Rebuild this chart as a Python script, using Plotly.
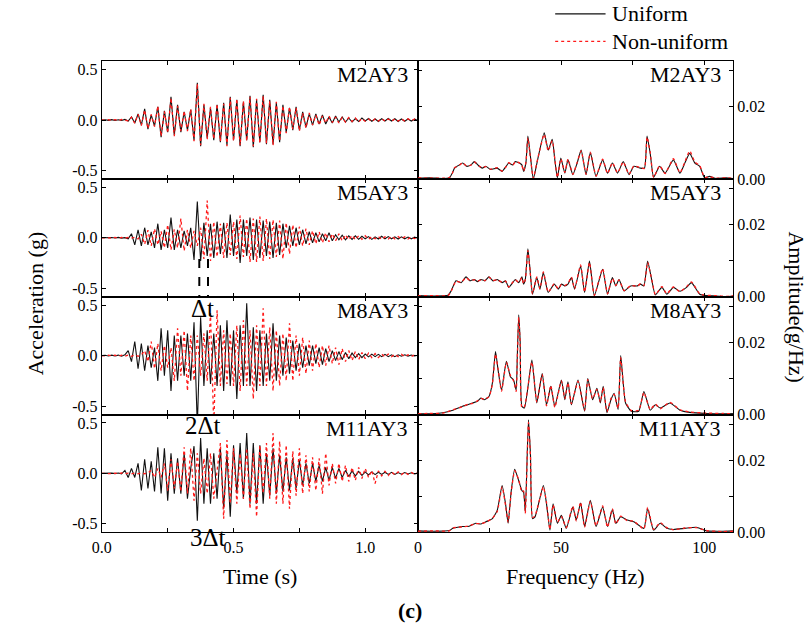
import numpy as np
import plotly.graph_objects as go

# ---------------------------------------------------------------------------
# Acceleration histories (g): successive extrema picked every SAMPLE_DT seconds
# ---------------------------------------------------------------------------
SAMPLE_DT = 0.0125

ACC_M2_UNIFORM = [
    0.0, 0.003, -0.003, 0.004, -0.004, 0.003, -0.005, 0.006, -0.01, 0.03,
    -0.03, 0.06, -0.05, 0.11, -0.09, 0.05, -0.06, 0.13, -0.17, 0.09,
    -0.12, 0.23, -0.15, 0.15, -0.12, 0.08, -0.1, 0.1, -0.2, 0.37,
    -0.26, 0.15, -0.18, 0.12, -0.2, 0.15, -0.22, 0.17, -0.25, 0.23,
    -0.2, 0.2, -0.26, 0.18, -0.2, 0.24, -0.27, 0.2, -0.22, 0.25,
    -0.24, 0.2, -0.24, 0.17, -0.22, 0.15, -0.12, 0.12, -0.1, 0.13,
    -0.1, 0.08, -0.07, 0.06, -0.05, 0.06, -0.04, 0.05, -0.04, 0.03,
    -0.03, 0.04, -0.02, 0.03, -0.02, 0.02, -0.02, 0.015, -0.015, 0.02,
    -0.01, 0.015, -0.012, 0.01, -0.015, 0.012, -0.01, 0.015, -0.01, 0.012,
    -0.015, 0.01, -0.012, 0.01, -0.01, 0.008, -0.005]
ACC_M2_NONUNIFORM = [
    0.0, -0.003, 0.004, -0.003, 0.004, -0.004, 0.005, -0.004, -0.008, 0.028,
    -0.032, 0.058, -0.055, 0.1, -0.085, 0.055, -0.065, 0.14, -0.16, 0.085,
    -0.13, 0.22, -0.16, 0.14, -0.11, 0.09, -0.11, 0.11, -0.21, 0.36,
    -0.25, 0.16, -0.19, 0.13, -0.19, 0.16, -0.21, 0.16, -0.26, 0.22,
    -0.21, 0.21, -0.25, 0.19, -0.21, 0.23, -0.26, 0.21, -0.23, 0.24,
    -0.23, 0.19, -0.25, 0.18, -0.21, 0.14, -0.13, 0.13, -0.09, 0.12,
    -0.11, 0.07, -0.08, 0.07, -0.05, 0.05, -0.05, 0.04, -0.03, 0.04,
    -0.025, 0.03, -0.03, 0.025, -0.02, 0.025, -0.015, 0.02, -0.02, 0.015,
    -0.012, 0.01, -0.015, 0.012, -0.01, 0.015, -0.012, 0.01, -0.012, 0.01,
    -0.01, 0.012, -0.01, 0.012, -0.008, 0.01, -0.006]

ACC_M5_UNIFORM = [
    0.0, 0.002, -0.003, 0.003, -0.002, 0.004, -0.003, 0.002, -0.01, 0.04,
    -0.07, 0.08, -0.08, 0.1, -0.07, 0.06, -0.1, 0.14, -0.12, 0.08,
    -0.1, 0.2, -0.12, 0.08, -0.1, 0.07, -0.08, 0.1, -0.22, 0.36,
    -0.23, 0.15, -0.18, 0.14, -0.2, 0.16, -0.16, 0.15, -0.2, 0.23,
    -0.18, 0.18, -0.25, 0.18, -0.18, 0.2, -0.22, 0.18, -0.2, 0.17,
    -0.18, 0.16, -0.2, 0.15, -0.17, 0.14, -0.1, 0.12, -0.08, 0.1,
    -0.07, 0.08, -0.06, 0.06, -0.05, 0.05, -0.04, 0.04, -0.03, 0.05,
    -0.03, 0.03, -0.02, 0.025, -0.02, 0.02, -0.015, 0.02, -0.015, 0.015,
    -0.01, 0.012, -0.015, 0.01, -0.012, 0.015, -0.01, 0.012, -0.01, 0.01,
    -0.012, 0.01, -0.01, 0.008, -0.01, 0.006, -0.004]
ACC_M5_NONUNIFORM = [
    0.0, -0.002, 0.003, -0.002, 0.003, -0.003, 0.004, -0.003, 0.003, -0.004,
    0.005, -0.012, 0.035, -0.065, 0.075, -0.08, 0.09, -0.07, 0.065, -0.1,
    0.13, -0.12, 0.085, -0.1, 0.19, -0.13, 0.08, -0.1, 0.07, -0.08,
    0.1, -0.21, 0.37, -0.23, 0.16, -0.19, 0.14, -0.2, 0.15, -0.17,
    0.16, -0.21, 0.22, -0.19, 0.19, -0.24, 0.19, -0.24, 0.21, -0.23,
    0.19, -0.21, 0.18, -0.19, 0.17, -0.21, 0.15, -0.16, 0.13, -0.1,
    0.11, -0.08, 0.09, -0.07, 0.07, -0.06, 0.06, -0.05, 0.05, -0.04,
    0.04, -0.03, 0.04, -0.03, 0.03, -0.02, 0.025, -0.02, 0.02, -0.015,
    0.02, -0.015, 0.012, -0.01, 0.012, -0.015, 0.01, -0.012, 0.015, -0.01,
    0.012, -0.01, 0.01, -0.012, 0.008, -0.008, 0.005]

ACC_M8_UNIFORM = [
    0.0, 0.003, -0.004, 0.005, -0.004, 0.005, -0.006, 0.008, 0.05, -0.06,
    0.14, -0.13, 0.12, -0.15, 0.1, -0.12, 0.08, -0.25, 0.27, -0.2,
    0.25, -0.35, 0.2, -0.25, 0.2, -0.2, 0.22, -0.25, 0.33, -0.7,
    0.38, -0.3, 0.25, -0.28, 0.22, -0.3, 0.3, -0.35, 0.35, -0.3,
    0.25, -0.43, 0.3, -0.3, 0.52, -0.3, 0.28, -0.35, 0.25, -0.3,
    0.22, -0.25, 0.32, -0.25, 0.2, -0.2, 0.18, -0.18, 0.15, -0.15,
    0.12, -0.12, 0.1, -0.1, 0.1, -0.08, 0.08, -0.09, 0.07, -0.06,
    0.05, -0.05, 0.04, -0.04, 0.03, -0.03, 0.025, -0.02, 0.02, -0.02,
    0.015, -0.012, 0.015, -0.01, 0.012, -0.01, 0.012, -0.01, 0.008, -0.01,
    0.008, -0.006, 0.008, -0.005, 0.006, -0.004, 0.003]
ACC_M8_NONUNIFORM = [
    0.0, -0.003, 0.004, -0.003, 0.004, -0.005, 0.004, -0.006, 0.005, -0.007,
    0.008, -0.006, 0.007, 0.05, -0.06, 0.14, -0.13, 0.12, -0.15, 0.1,
    -0.12, 0.08, -0.25, 0.27, -0.2, 0.25, -0.35, 0.2, -0.25, 0.2,
    -0.2, 0.22, -0.25, 0.42, -0.7, 0.45, -0.3, 0.25, -0.28, 0.22,
    -0.3, 0.3, -0.35, 0.35, -0.3, 0.25, -0.43, 0.3, -0.3, 0.47,
    -0.3, 0.28, -0.35, 0.25, -0.3, 0.22, -0.25, 0.32, -0.25, 0.2,
    -0.2, 0.18, -0.18, 0.15, -0.15, 0.12, -0.12, 0.1, -0.1, 0.1,
    -0.08, 0.08, -0.09, 0.07, -0.06, 0.05, -0.05, 0.04, -0.04, 0.03,
    -0.03, 0.025, -0.02, 0.02, -0.02, 0.015, -0.012, 0.015, -0.01, 0.012,
    -0.01, 0.012, -0.01, 0.008, -0.008, 0.006, -0.004]

ACC_M11_UNIFORM = [
    0.0, 0.002, -0.003, 0.003, -0.002, 0.004, -0.004, 0.03, -0.04, 0.05,
    -0.04, 0.1, -0.17, 0.14, -0.15, 0.12, -0.18, 0.26, -0.2, 0.25,
    -0.27, 0.2, -0.2, 0.15, -0.2, 0.2, -0.25, 0.05, 0.27, -0.47,
    0.35, -0.3, 0.25, -0.3, 0.2, -0.25, 0.25, -0.35, 0.2, -0.43,
    0.28, -0.2, 0.3, -0.25, 0.4, -0.3, 0.3, -0.3, 0.28, -0.3,
    0.2, -0.22, 0.25, -0.2, 0.18, -0.18, 0.16, -0.17, 0.15, -0.15,
    0.13, -0.12, 0.1, -0.1, 0.1, -0.08, 0.08, -0.08, 0.06, -0.07,
    0.06, -0.05, 0.05, -0.04, 0.03, -0.03, 0.025, -0.025, 0.02, -0.02,
    0.015, -0.015, 0.015, -0.012, 0.012, -0.01, 0.012, -0.01, 0.01, -0.01,
    0.008, -0.008, 0.008, -0.006, 0.006, -0.004, 0.003]
ACC_M11_NONUNIFORM = [
    0.0, -0.002, 0.003, -0.002, 0.003, -0.003, 0.004, -0.003, 0.003, -0.004,
    0.004, -0.004, 0.005, -0.003, 0.004, 0.03, -0.04, 0.05, -0.04, 0.1,
    -0.17, 0.14, -0.15, 0.12, -0.18, 0.26, -0.2, 0.25, -0.27, 0.2,
    -0.2, 0.15, -0.2, 0.2, -0.25, 0.05, 0.3, -0.45, 0.33, -0.3,
    0.25, -0.3, 0.2, -0.25, 0.25, -0.35, 0.2, -0.43, 0.28, -0.2,
    0.3, -0.25, 0.4, -0.3, 0.32, -0.3, 0.28, -0.35, 0.22, -0.22,
    0.25, -0.2, 0.18, -0.18, 0.16, -0.17, 0.15, -0.2, 0.2, -0.12,
    0.1, -0.1, 0.1, -0.08, 0.08, -0.08, 0.06, -0.07, 0.06, -0.05,
    0.05, -0.04, 0.03, -0.1, 0.025, -0.025, 0.02, -0.02, 0.015, -0.015,
    0.015, -0.012, 0.012, -0.01, 0.01, -0.008, 0.005]

# ---------------------------------------------------------------------------
# Fourier amplitude spectra (g/Hz)
# ---------------------------------------------------------------------------
FREQ_M2 = [
    0, 4.1, 8.7, 11.0, 12.0, 12.8, 14.5, 15.6, 17.0, 18.5,
    19.7, 21.4, 22.5, 23.7, 25.4, 27.7, 29.4, 30.8, 31.7, 33.1,
    34.0, 35.4, 36.3, 36.9, 37.7, 38.4, 39.3, 40.3, 41.8, 44.1,
    45.5, 46.9, 47.8, 48.7, 49.9, 51.3, 52.4, 54.1, 55.6, 57.0,
    58.7, 60.2, 62.2, 64.5, 66.2, 67.9, 69.7, 71.7, 73.7, 75.4,
    77.7, 79.1, 80.0, 81.1, 82.3, 84.4, 86.3, 89.2, 91.5, 93.2,
    94.9, 96.7, 98.4, 100.1, 101.8, 104.1, 107.6, 110]
FAS_M2_UNIFORM = [
    .0002, .0003, .0001, .0003, .0016, .003, .0039, .0044, .0035, .0039,
    .0048, .0035, .003, .0035, .0026, .003, .0021, .0035, .0044, .0039,
    .0048, .0044, .0039, .0021, .0044, .0119, .0062, 0.0, .0053, .0128,
    .008, .011, .0053, .0003, .0058, .0016, .0053, .0012, .0044, .008,
    .0012, .0073, .0007, .0053, .0016, .0044, .0016, .0048, .0012, .0035,
    .003, .003, .0119, .0071, .0005, .0035, .0016, .0053, .0016, .0044,
    .0071, .0044, .0035, .0003, .0007, .0001, .0003, .0001]
FAS_M2_NONUNIFORM = [
    .0003, .0002, .0002, .0004, .0015, .0031, .0038, .0045, .0036, .0038,
    .0047, .0036, .0031, .0034, .0027, .0031, .0022, .0034, .0045, .0038,
    .0047, .0045, .0038, .0022, .0045, .0114, .0058, .0002, .0055, .0124,
    .0078, .0106, .0056, .0004, .0056, .0018, .0055, .0013, .0046, .0078,
    .0013, .0074, .0008, .0055, .0015, .0045, .0017, .0047, .0013, .0036,
    .0031, .0029, .0116, .0074, .0004, .0037, .0015, .0056, .0017, .0047,
    .0078, .0047, .0037, .0004, .0006, .0002, .0003, .0002]

FREQ_M5 = [
    0, 5.3, 10.5, 11.6, 13.3, 15.1, 16.8, 18.2, 19.7, 20.8,
    22.0, 23.4, 24.8, 26.2, 27.7, 29.4, 30.6, 31.7, 33.1, 34.0,
    35.2, 36.3, 36.9, 37.5, 38.4, 39.2, 40.0, 41.5, 42.6, 43.8,
    45.5, 47.6, 49.0, 50.1, 51.3, 52.4, 53.6, 54.7, 56.8, 58.2,
    59.9, 61.6, 64.5, 66.2, 67.9, 69.1, 70.2, 72.0, 74.3, 76.6,
    77.7, 78.9, 80.2, 81.7, 82.9, 85.2, 86.9, 89.2, 91.5, 93.8,
    95.5, 98.4, 100.7, 104.1, 107.6, 110]
FAS_M5_UNIFORM = [
    .0003, .0002, .0004, .0016, .0044, .0039, .0055, .0044, .0048, .0042,
    .0048, .0044, .0055, .0044, .0048, .0039, .0044, .0026, .0039, .0048,
    .0039, .0055, .0035, .0048, .0133, .0071, .0007, .0053, .0021, .0067,
    .0012, .0035, .0021, .0035, .003, .0035, .0053, .0021, .0085, .0012,
    .0099, .0003, .0076, .0007, .0053, .003, .0048, .0016, .003, .003,
    .0035, .003, .0099, .0044, .0005, .0026, .0007, .0026, .0015, .0026,
    .0039, .0007, .0003, .0002, 0.0, .0002]
FAS_M5_NONUNIFORM = [
    .0002, .0003, .0003, .0015, .0043, .004, .0053, .0045, .0047, .0043,
    .0047, .0045, .0054, .0045, .0047, .004, .0043, .0027, .004, .0047,
    .004, .0053, .0036, .0047, .0128, .0068, .0008, .0055, .0022, .0069,
    .0013, .0036, .0022, .0034, .0031, .0037, .0055, .0022, .0088, .0013,
    .0095, .0004, .0078, .0008, .0051, .0031, .0047, .0017, .0031, .0029,
    .0036, .0031, .0095, .0046, .0006, .0028, .0008, .0027, .0014, .0028,
    .0041, .0008, .0004, .0003, .0001, .0003]

FREQ_M8 = [
    0, 4.1, 8.7, 12.2, 15.6, 17.4, 19.1, 20.8, 22.0, 23.1,
    24.8, 26.0, 27.1, 28.0, 29.2, 30.9, 32.3, 33.4, 34.3, 34.7,
    35.2, 35.7, 36.3, 37.2, 39.8, 41.5, 43.4, 44.9, 46.4, 47.8,
    50.1, 51.3, 52.4, 53.6, 55.9, 58.2, 59.3, 61.0, 62.5, 63.7,
    64.7, 66.0, 67.4, 68.5, 69.9, 70.8, 72.5, 74.5, 77.1, 78.9,
    81.1, 82.9, 84.6, 88.0, 91.5, 94.9, 100.7, 106.4, 110]
FAS_M8_UNIFORM = [
    .0003, .0002, .0005, .0012, .0023, .0027, .0032, .0037, .0046, .0041,
    .005, .0087, .0175, .0123, .0068, .0148, .0105, .0096, .0068, .016,
    .0277, .0205, .0023, .0018, .0151, .0032, .0114, .0027, .0078, .0023,
    .0096, .0041, .0091, .0027, .0096, .0009, .01, .0041, .0073, .0032,
    .0078, .0005, .0041, .0059, .0014, .0164, .0032, .0009, .0009, .0064,
    .0012, .0027, .0018, .0032, .0012, .0006, .0003, .0002, .0003]
FAS_M8_NONUNIFORM = [
    .0002, .0003, .0004, .0013, .0022, .0028, .0031, .0038, .0045, .0042,
    .0049, .0084, .0168, .0126, .0064, .0145, .0108, .0093, .0064, .0155,
    .027, .0198, .0019, .0022, .0146, .0035, .0111, .0024, .0081, .002,
    .0093, .0044, .0088, .003, .0092, .0012, .0097, .0044, .007, .0035,
    .0075, .0008, .0044, .0056, .0017, .0158, .0035, .0011, .0012, .0061,
    .0014, .0029, .0016, .0034, .0013, .0007, .0004, .0003, .0002]

FREQ_M11 = [
    0, 5.3, 11.0, 12.2, 15.6, 17.9, 20.2, 22.0, 23.7, 26.0,
    27.7, 29.4, 30.6, 31.5, 32.6, 33.8, 35.2, 36.3, 36.9, 37.5,
    38.6, 39.3, 40.0, 40.9, 43.8, 44.9, 46.1, 47.2, 48.7, 50.1,
    51.8, 54.1, 55.3, 56.8, 58.2, 60.2, 62.2, 64.5, 66.2, 67.9,
    69.1, 70.8, 73.1, 75.4, 78.9, 80.2, 82.3, 84.6, 86.9, 89.2,
    93.2, 97.2, 100.7, 106.4, 110]
FAS_M11_UNIFORM = [
    .0004, .0003, .0005, .0011, .0016, .0017, .0025, .0023, .0029, .0038,
    .0061, .013, .0079, .0025, .0116, .0175, .0143, .0116, .0111, .0057,
    .0312, .0216, .0038, .0043, .013, .0079, .0006, .0079, .0025, .0047,
    .0011, .007, .0034, .0081, .0016, .0089, .0016, .007, .0016, .0063,
    .0025, .0043, .0034, .0029, .0011, .0066, .0006, .0025, .0011, .0008,
    .0011, .0014, .0004, .0003, .0004]
FAS_M11_NONUNIFORM = [
    .0003, .0004, .0004, .0012, .0015, .0018, .0024, .0024, .0028, .0039,
    .0058, .0126, .0075, .0028, .0112, .0171, .0146, .0112, .0115, .0052,
    .0305, .021, .0041, .0046, .0126, .0083, .0008, .0076, .0028, .0044,
    .0013, .0073, .0031, .0084, .0014, .0086, .0018, .0073, .0014, .0066,
    .0023, .0045, .0032, .0031, .0009, .0069, .0008, .0027, .0013, .0007,
    .0012, .0013, .0005, .0002, .0003]

STATIONS = ["M2AY3", "M5AY3", "M8AY3", "M11AY3"]
ACC_UNIFORM = [ACC_M2_UNIFORM, ACC_M5_UNIFORM, ACC_M8_UNIFORM, ACC_M11_UNIFORM]
ACC_NONUNIFORM = [ACC_M2_NONUNIFORM, ACC_M5_NONUNIFORM, ACC_M8_NONUNIFORM, ACC_M11_NONUNIFORM]
FREQS = [FREQ_M2, FREQ_M5, FREQ_M8, FREQ_M11]
FAS_UNIFORM = [FAS_M2_UNIFORM, FAS_M5_UNIFORM, FAS_M8_UNIFORM, FAS_M11_UNIFORM]
FAS_NONUNIFORM = [FAS_M2_NONUNIFORM, FAS_M5_NONUNIFORM, FAS_M8_NONUNIFORM, FAS_M11_NONUNIFORM]

# arrival of the marked trough for the uniform / delayed record (s), and its level (g)
DELAY_MARK_T = [0.370, 0.403]
DELAY_MARK_LEVEL = -0.21

# ---------------------------------------------------------------------------
W, H = 810, 632
FONT = "Liberation Serif, Times New Roman, serif"
LEFT_PX = (93, 413)
RIGHT_PX = (413, 732)
ROW_TOP_PX = [62, 181.5, 301, 420.5]
ROW_H_PX = 119.5
ACC_RANGE = [-0.584, 0.584]
FAS_RANGE = [0, 0.0327]


def px(x):
    return x / W


def py(y):
    return 1 - y / H


fig = go.Figure()
layout = {}
annotations = []
shapes = []

axis_common = dict(
    showline=True, linecolor="black", linewidth=1.2, mirror="ticks",
    ticks="inside", ticklen=4, tickwidth=1, tickcolor="black",
    showgrid=False, zeroline=False,
    tickfont=dict(family=FONT, size=16, color="black"),
)

black_line = dict(color="#111111", width=1.1)
red_line = dict(color="#ff1a1a", width=1.3, dash="dot")

for r in range(4):
    top = ROW_TOP_PX[r]
    bottom = top + ROW_H_PX
    ydom = [py(bottom), py(top)]
    last = r == 3
    nl, nr = 2 * r + 1, 2 * r + 2

    t = np.arange(len(ACC_UNIFORM[r])) * SAMPLE_DT
    fig.add_trace(go.Scatter(x=t, y=ACC_UNIFORM[r], xaxis=f"x{nl}", yaxis=f"y{nl}",
                             mode="lines", line=black_line,
                             showlegend=False, hoverinfo="skip"))
    fig.add_trace(go.Scatter(x=t, y=ACC_NONUNIFORM[r], xaxis=f"x{nl}", yaxis=f"y{nl}",
                             mode="lines", line=red_line,
                             showlegend=False, hoverinfo="skip"))
    # spectra drawn as gently smoothed curves
    fig.add_trace(go.Scatter(x=FREQS[r], y=FAS_UNIFORM[r], xaxis=f"x{nr}", yaxis=f"y{nr}",
                             mode="lines", line=dict(black_line, shape="spline", smoothing=0.5),
                             showlegend=False, hoverinfo="skip"))
    fig.add_trace(go.Scatter(x=FREQS[r], y=FAS_NONUNIFORM[r], xaxis=f"x{nr}", yaxis=f"y{nr}",
                             mode="lines", line=dict(red_line, shape="spline", smoothing=0.5),
                             showlegend=False, hoverinfo="skip"))

    kxl = "xaxis" if nl == 1 else f"xaxis{nl}"
    kyl = "yaxis" if nl == 1 else f"yaxis{nl}"
    layout[kxl] = dict(axis_common, domain=[px(LEFT_PX[0]), px(LEFT_PX[1])], range=[0, 1.2],
                       anchor=f"y{nl}", tickvals=[0, 0.25, 0.5, 0.75, 1.0],
                       ticktext=["0.0", "", "0.5", "", "1.0"], showticklabels=last)
    layout[kyl] = dict(axis_common, domain=ydom, range=ACC_RANGE, anchor=f"x{nl}",
                       tickvals=[-0.5, 0, 0.5], ticktext=["-0.5", "0.0", "0.5"], side="left")
    layout[f"xaxis{nr}"] = dict(axis_common, domain=[px(RIGHT_PX[0]), px(RIGHT_PX[1])], range=[0, 110],
                                anchor=f"y{nr}", tickvals=[0, 25, 50, 75, 100],
                                ticktext=["0", "", "50", "", "100"], showticklabels=last)
    layout[f"yaxis{nr}"] = dict(axis_common, domain=ydom, range=FAS_RANGE, anchor=f"x{nr}",
                                tickvals=[0, 0.01, 0.02, 0.03], ticktext=["0.00", "", "0.02", ""],
                                side="right")

    # station name in the upper right corner of each panel
    for xr_px in (LEFT_PX[1] - 8, RIGHT_PX[1] - 10):
        annotations.append(dict(text=STATIONS[r], xref="paper", yref="paper",
                                x=px(xr_px), y=py(top + 14), xanchor="right", yanchor="middle",
                                showarrow=False, font=dict(family=FONT, size=22, color="black")))

# dashed markers of the arrival-time shift in the second panel
for tm in DELAY_MARK_T:
    shapes.append(dict(type="line", xref="x3", yref="y3", x0=tm, x1=tm,
                       y0=DELAY_MARK_LEVEL, y1=ACC_RANGE[0],
                       line=dict(color="black", width=2, dash="dash")))

# delay labels
for txt, xc, yc, sz in [("Δt", 195, 313, 25), ("2Δt", 195, 432, 25), ("3Δt", 200, 545, 25)]:
    annotations.append(dict(text=txt, xref="paper", yref="paper", x=px(xc), y=py(yc),
                            xanchor="center", yanchor="middle", showarrow=False,
                            font=dict(family=FONT, size=sz, color="black")))

# axis titles and caption
for txt, xc, yc, ang, bold in [("Acceleration (g)", 26, 308, -90, False),
                               ("Amplitude(g/Hz)", 796, 312, 90, False),
                               ("Time (s)", 253, 585, 0, False),
                               ("Frequency (Hz)", 573, 585, 0, False),
                               ("(c)", 405, 619, 0, True)]:
    annotations.append(dict(text=f"<b>{txt}</b>" if bold else txt, xref="paper", yref="paper",
                            x=px(xc), y=py(yc), xanchor="center", yanchor="middle",
                            textangle=ang, showarrow=False,
                            font=dict(family=FONT, size=22, color="black")))

# legend
for txt, yc, color, dash in [("Uniform", 14, "#111111", "solid"), ("Non-uniform", 42, "#ff1a1a", "dot")]:
    shapes.append(dict(type="line", xref="paper", yref="paper", x0=px(552), x1=px(603),
                       y0=py(yc), y1=py(yc), line=dict(color=color, width=1.3, dash=dash)))
    annotations.append(dict(text=txt, xref="paper", yref="paper", x=px(607), y=py(yc),
                            xanchor="left", yanchor="middle", showarrow=False,
                            font=dict(family=FONT, size=22, color="black")))

fig.update_layout(
    width=W, height=H, autosize=False,
    margin=dict(l=0, r=0, t=0, b=0),
    paper_bgcolor="white", plot_bgcolor="white",
    font=dict(family=FONT, color="black"),
    showlegend=False,
    annotations=annotations, shapes=shapes,
    **layout,
)

fig.write_html("out.html")
